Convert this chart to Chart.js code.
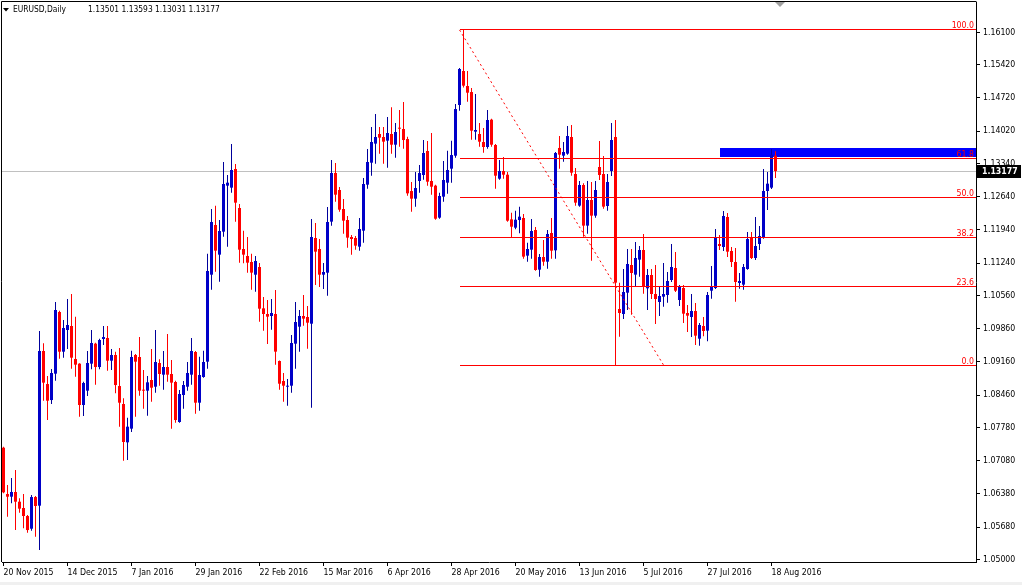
<!DOCTYPE html>
<html>
<head>
<meta charset="utf-8">
<title>EURUSD Daily</title>
<script src="https://cdn.jsdelivr.net/npm/chart.js@4.4.0/dist/chart.umd.min.js"></script>
<style>
  html, body { margin: 0; padding: 0; background: #fff; }
  canvas { display: block; }
</style>
</head>
<body>
<canvas id="priceChart" width="1022" height="585"></canvas>
<script>
// Daily candles, bar 0 = 20 Nov 2015
const opens = [
  1.07351,1.06375,1.06319,1.06418,1.06214,1.06081,1.05912,1.05645,1.06312,1.06130,
  1.09388,1.08692,1.08355,1.08910,1.10209,1.09373,1.09830,1.09914,1.09219,1.09121,
  1.08250,1.08552,1.09121,1.09542,1.09050,1.09640,1.09661,1.09184,1.09303,1.08650,
  1.08271,1.07464,1.07752,1.09303,1.09261,1.08573,1.08552,1.08777,1.08636,1.09135,
  1.08889,1.09051,1.08903,1.08735,1.07892,1.08461,1.08636,1.08889,1.09367,1.08299,
  1.08840,1.09163,1.10995,1.12042,1.11417,1.11901,1.12870,1.12828,1.13221,1.12400,
  1.11536,1.11389,1.11262,1.10995,1.11157,1.10286,1.10167,1.10125,1.10167,1.09177,
  1.08756,1.08636,1.08657,1.09542,1.09900,1.10125,1.10104,1.09963,1.11768,1.11536,
  1.10995,1.11037,1.12112,1.13137,1.12779,1.12378,1.12147,1.11789,1.11768,1.11585,
  1.11922,1.12891,1.13354,1.13755,1.13958,1.13895,1.13818,1.13958,1.13733,1.14091,
  1.14063,1.13852,1.12757,1.12596,1.12968,1.13094,1.13600,1.12968,1.12870,1.12196,
  1.12638,1.12933,1.13228,1.13501,1.14569,1.15285,1.14969,1.14842,1.14007,1.13958,
  1.13789,1.13684,1.14260,1.13726,1.13017,1.13178,1.13101,1.12160,1.11985,1.12146,
  1.12189,1.11396,1.11522,1.11936,1.11101,1.11368,1.11269,1.11873,1.11508,1.13664,
  1.13502,1.13544,1.13895,1.13116,1.12449,1.12884,1.12028,1.12568,1.12238,1.13263,
  1.13116,1.12442,1.13179,1.13895,1.10272,1.10167,1.10616,1.11199,1.10996,1.11312,
  1.11515,1.10708,1.10988,1.10588,1.10420,1.10532,1.10567,1.10883,1.11136,1.10462,
  1.10715,1.10188,1.10104,1.10230,1.09647,1.09914,1.09816,1.10658,1.10715,1.11641,
  1.11578,1.12210,1.11494,1.11262,1.10820,1.10785,1.11115,1.11775,1.11347,1.11641,
  1.11789,1.12758,1.12828,1.13501
];
const highs = [
  1.07372,1.06565,1.06713,1.06881,1.06284,1.06375,1.05933,1.06354,1.06333,1.09809,
  1.09549,1.08861,1.09008,1.10420,1.10237,1.10040,1.10483,1.10588,1.10111,1.09130,
  1.08742,1.09388,1.09830,1.09563,1.09647,1.09914,1.09914,1.09430,1.09373,1.09451,
  1.08391,1.07983,1.09395,1.09324,1.09683,1.08988,1.08861,1.09430,1.09830,1.09212,
  1.09388,1.09746,1.09198,1.08763,1.08566,1.08756,1.09156,1.09662,1.09388,1.09268,
  1.09395,1.11438,1.12379,1.12449,1.12147,1.13369,1.13095,1.13748,1.13326,1.12484,
  1.11922,1.11789,1.11438,1.11389,1.11241,1.10525,1.10462,1.10483,1.10672,1.09190,
  1.08924,1.08798,1.09725,1.10420,1.10251,1.10567,1.10335,1.12168,1.12084,1.11747,
  1.11241,1.12421,1.13411,1.13347,1.12842,1.12589,1.12231,1.11831,1.11810,1.12189,
  1.13031,1.13642,1.14106,1.14379,1.14106,1.14106,1.14316,1.14519,1.14190,1.14463,
  1.14632,1.13902,1.12947,1.13157,1.13305,1.13831,1.13810,1.13979,1.12891,1.12722,
  1.13389,1.13607,1.13817,1.14590,1.15348,1.16148,1.15285,1.14927,1.14800,1.14190,
  1.14084,1.14463,1.14281,1.13747,1.13410,1.13473,1.13157,1.12301,1.12343,1.12427,
  1.12273,1.11670,1.12168,1.12000,1.11431,1.11726,1.11936,1.12189,1.13579,1.13916,
  1.13790,1.14127,1.14148,1.13242,1.12969,1.12920,1.12969,1.12947,1.12969,1.13811,
  1.13495,1.13116,1.14190,1.14253,1.10827,1.11115,1.11536,1.11536,1.11684,1.11599,
  1.11852,1.11115,1.11115,1.11199,1.10736,1.11241,1.11052,1.11641,1.11473,1.10778,
  1.10778,1.10357,1.10588,1.10399,1.09977,1.10104,1.10630,1.11178,1.11957,1.11831,
  1.12337,1.12294,1.11578,1.11557,1.11031,1.11220,1.11894,1.11894,1.12210,1.12021,
  1.13221,1.13158,1.13635,1.13593
];
const lows = [
  1.06390,1.05898,1.06179,1.05617,1.05982,1.05652,1.05561,1.05603,1.05477,1.05196,
  1.08341,1.07934,1.08271,1.08763,1.09226,1.09247,1.09430,1.09015,1.08847,1.08004,
  1.08018,1.08440,1.09001,1.08678,1.09001,1.09514,1.08973,1.08987,1.08496,1.07794,
  1.07078,1.07092,1.07682,1.08005,1.08447,1.08173,1.08026,1.08321,1.08510,1.08658,
  1.08573,1.08742,1.07752,1.07878,1.07878,1.08173,1.08552,1.08679,1.08068,1.08131,
  1.08826,1.09016,1.10680,1.11059,1.10848,1.11796,1.11585,1.12723,1.12112,1.11248,
  1.11234,1.11038,1.10680,1.10637,1.10006,1.09816,1.09535,1.09837,1.09100,1.08573,
  1.08320,1.08236,1.08510,1.09015,1.09374,1.09921,1.09437,1.08194,1.10778,1.10736,
  1.10693,1.10553,1.12027,1.12533,1.12322,1.11859,1.11564,1.11417,1.11522,1.11501,
  1.11669,1.12807,1.13081,1.13333,1.13544,1.13333,1.13249,1.13544,1.13459,1.13691,
  1.13649,1.12659,1.12322,1.12427,1.12722,1.12996,1.12870,1.12680,1.12153,1.12174,
  1.12533,1.12701,1.12933,1.13459,1.14449,1.14940,1.14639,1.13838,1.13838,1.13691,
  1.13565,1.13649,1.13691,1.12806,1.12996,1.13017,1.12111,1.11788,1.11950,1.11866,
  1.11333,1.11269,1.11333,1.11080,1.10953,1.11185,1.11122,1.11333,1.11333,1.13228,
  1.13376,1.13523,1.13081,1.12449,1.12428,1.11796,1.11859,1.11290,1.12196,1.12990,
  1.12386,1.12344,1.13074,1.09070,1.09690,1.10062,1.10251,1.10153,1.10743,1.10953,
  1.10595,1.10251,1.10483,1.09956,1.10125,1.10321,1.10406,1.10841,1.10630,1.10335,
  1.09977,1.09788,1.09683,1.09514,1.09500,1.09697,1.09591,1.10490,1.10694,1.11515,
  1.11494,1.11368,1.11157,1.10427,1.10701,1.10680,1.11101,1.11326,1.11304,1.11515,
  1.11754,1.12358,1.12800,1.13031
];
const closes = [
  1.06411,1.06319,1.06418,1.06214,1.06067,1.05912,1.05617,1.06312,1.06123,1.09388,
  1.08721,1.08341,1.08924,1.10251,1.09373,1.09872,1.09935,1.09247,1.09100,1.08250,
  1.08714,1.09135,1.09556,1.09050,1.09619,1.09682,1.09184,1.09303,1.08671,1.08299,
  1.07471,1.07794,1.09261,1.09163,1.08552,1.08552,1.08728,1.08615,1.09156,1.08903,
  1.09051,1.08889,1.08721,1.07934,1.08482,1.08672,1.08924,1.09388,1.08299,1.08882,
  1.09156,1.11073,1.12105,1.11501,1.11915,1.12905,1.12933,1.13200,1.12512,1.11522,
  1.11417,1.11248,1.11038,1.11283,1.10279,1.10167,1.10111,1.10188,1.09374,1.08699,
  1.08657,1.08657,1.09556,1.09998,1.10125,1.10069,1.09984,1.11789,1.11480,1.10995,
  1.11052,1.12105,1.13137,1.12680,1.12364,1.12133,1.11775,1.11747,1.11606,1.11957,
  1.12905,1.13368,1.13790,1.13895,1.13881,1.13797,1.13979,1.13733,1.14000,1.14070,
  1.13831,1.12708,1.12596,1.12820,1.13136,1.13558,1.12954,1.12848,1.12174,1.12652,
  1.12989,1.13200,1.13515,1.14484,1.15327,1.14976,1.14828,1.14028,1.14042,1.13796,
  1.13684,1.14253,1.13733,1.13080,1.13178,1.13101,1.12132,1.12006,1.12153,1.12217,
  1.11375,1.11536,1.11915,1.11094,1.11368,1.11269,1.11852,1.11501,1.13558,1.13523,
  1.13579,1.13916,1.13144,1.12512,1.12884,1.12028,1.12568,1.12238,1.12779,1.13095,
  1.12428,1.12947,1.13832,1.10827,1.10188,1.10631,1.11220,1.11031,1.11347,1.11515,
  1.10743,1.10988,1.10588,1.10483,1.10546,1.10588,1.10862,1.11157,1.10658,1.10736,
  1.10174,1.10132,1.10230,1.09711,1.09935,1.09809,1.10567,1.10736,1.11768,1.11599,
  1.12231,1.11480,1.11262,1.10841,1.10862,1.11157,1.11747,1.11347,1.11599,1.11810,
  1.12758,1.12912,1.13523,1.13177
];

// time axis labels (every 16 bars)
const tickBars = [0, 16, 32, 48, 64, 80, 96, 112, 128, 144, 160, 176, 192];
const tickLabels = ['20 Nov 2015', '14 Dec 2015', '7 Jan 2016', '29 Jan 2016', '22 Feb 2016',
  '15 Mar 2016', '6 Apr 2016', '28 Apr 2016', '20 May 2016', '13 Jun 2016', '5 Jul 2016',
  '27 Jul 2016', '18 Aug 2016'];
// price axis labels
const priceTicks = [1.16100, 1.15420, 1.14720, 1.14020, 1.13340, 1.12640, 1.11940, 1.11240,
  1.10560, 1.09860, 1.09160, 1.08460, 1.07780, 1.07080, 1.06380, 1.05680, 1.05000];

const bidPrice = 1.13177;
// fibonacci retracement, drawn from the May high to the June low
const fibHigh = 1.1615;
const fibLow = 1.0908;
const fibLevels = [100, 61.8, 50, 38.2, 23.6, 0];
const fibStartBar = 114;
// resistance zone
const zoneTop = 1.1366;
const zoneBottom = 1.1347;
const zoneStartBar = 179;
// dotted trend line
const trendBars = [114, 165.1];
const trendPrices = [1.1615, 1.0908];

const BULL = '#0000C8';
const BULL_WICK = '#00009B';
const BEAR = '#FF0000';
const FONT = "'DejaVu Sans Condensed', 'Liberation Sans', sans-serif";

document.addEventListener('DOMContentLoaded', function() {
  Chart.defaults.font.family = FONT;
  Chart.defaults.font.size = 8.7;
  Chart.defaults.color = '#000';

  const bull = opens.map((o, i) => closes[i] >= o);
  const wickData = opens.map((o, i) => ({ x: i, y: [lows[i], highs[i]] }));
  const bodyData = opens.map((o, i) => ({ x: i, y: [o, closes[i]] }));
  const trendData = trendBars.map((b, i) => ({ x: b, y: trendPrices[i] }));

  const mt4Overlay = {
    id: 'mt4Overlay',
    beforeDraw(chart) {
      const ctx = chart.ctx;
      ctx.save();
      ctx.fillStyle = '#fff';
      ctx.fillRect(0, 0, chart.width, chart.height);
      ctx.restore();
    },
    beforeDatasetsDraw(chart) {
      const { ctx, chartArea: a, scales: { x, y } } = chart;
      ctx.save();
      // zone rectangle (background object)
      const zx = Math.round(x.getPixelForValue(zoneStartBar));
      const zt = Math.round(y.getPixelForValue(zoneTop));
      const zb = Math.round(y.getPixelForValue(zoneBottom));
      ctx.fillStyle = '#0000FF';
      ctx.fillRect(zx, zt, a.right - zx, zb - zt);
      // bid line
      const by = Math.floor(y.getPixelForValue(bidPrice)) + 0.5;
      ctx.strokeStyle = '#C0C0C0';
      ctx.lineWidth = 1;
      ctx.beginPath();
      ctx.moveTo(a.left, by);
      ctx.lineTo(a.right, by);
      ctx.stroke();
      ctx.restore();
    },
    afterDatasetsDraw(chart) {
      const { ctx, chartArea: a, scales: { x, y } } = chart;
      ctx.save();
      const fx = Math.round(x.getPixelForValue(fibStartBar));
      ctx.strokeStyle = '#FF0000';
      ctx.fillStyle = '#FF0000';
      ctx.lineWidth = 1;
      ctx.font = '8.7px ' + FONT;
      ctx.textAlign = 'right';
      ctx.textBaseline = 'bottom';
      fibLevels.forEach(lv => {
        const price = fibLow + (fibHigh - fibLow) * lv / 100;
        const ly = Math.floor(y.getPixelForValue(price)) + 0.5;
        ctx.beginPath();
        ctx.moveTo(fx, ly);
        ctx.lineTo(a.right, ly);
        ctx.stroke();
        ctx.fillText(lv.toFixed(1), a.right - 2, ly + 0.5);
      });
      ctx.restore();
    },
    afterDraw(chart) {
      const { ctx, chartArea: a, scales: { y } } = chart;
      ctx.save();
      // frame
      ctx.strokeStyle = '#000';
      ctx.lineWidth = 1;
      ctx.beginPath();
      ctx.moveTo(1.5, a.bottom);
      ctx.lineTo(1.5, 1.5);
      ctx.lineTo(a.right + 0.5, 1.5);
      ctx.stroke();
      // current price label
      const by = Math.floor(y.getPixelForValue(bidPrice)) + 0.5;
      ctx.fillStyle = '#000';
      ctx.fillRect(a.right + 1, by - 6.5, 44, 13);
      ctx.fillStyle = '#fff';
      ctx.font = 'bold 8.7px ' + FONT;
      ctx.textBaseline = 'middle';
      ctx.textAlign = 'left';
      ctx.fillText(bidPrice.toFixed(5), a.right + 6, by + 0.5);
      // header
      const last = opens.length - 1;
      ctx.fillStyle = '#000';
      ctx.beginPath();
      ctx.moveTo(3, 8);
      ctx.lineTo(9, 8);
      ctx.lineTo(6, 11.5);
      ctx.closePath();
      ctx.fill();
      ctx.font = '8.4px ' + FONT;
      ctx.fillText('EURUSD,Daily', 13, 10);
      ctx.fillText([opens[last], highs[last], lows[last], closes[last]].map(v => v.toFixed(5)).join(' '), 88, 10);
      // chart shift marker
      ctx.fillStyle = '#A0A0A0';
      ctx.beginPath();
      ctx.moveTo(775, 2);
      ctx.lineTo(785, 2);
      ctx.lineTo(780, 7);
      ctx.closePath();
      ctx.fill();
      // window bottom strip
      ctx.fillStyle = '#F0F0F0';
      ctx.fillRect(0, 582, chart.width, 3);
      ctx.restore();
    }
  };

  const ctx = document.getElementById('priceChart').getContext('2d');
  const priceChart = new Chart(ctx, {
    type: 'bar',
    data: {
      datasets: [
        {
          type: 'line',
          data: trendData,
          borderColor: '#FF0000',
          borderWidth: 1,
          borderDash: [2, 3],
          pointRadius: 0,
          fill: false,
          order: 0
        },
        {
          data: wickData,
          backgroundColor: bull.map(b => b ? BULL_WICK : BEAR),
          barThickness: 1,
          grouped: false,
          inflateAmount: 0,
          borderWidth: 0,
          order: 2
        },
        {
          data: bodyData,
          backgroundColor: bull.map(b => b ? BULL : BEAR),
          barThickness: 3,
          minBarLength: 1,
          grouped: false,
          inflateAmount: 0,
          borderWidth: 0,
          order: 1
        }
      ]
    },
    options: {
      responsive: false,
      animation: false,
      devicePixelRatio: 1,
      layout: { autoPadding: false, padding: { left: 2, top: 2, right: 0, bottom: 0 } },
      plugins: {
        legend: { display: false },
        tooltip: { enabled: false }
      },
      scales: {
        x: {
          type: 'linear',
          min: -0.375,
          max: 243.125,
          bounds: 'data',
          offset: false,
          grid: { display: true, drawOnChartArea: false, drawTicks: true, tickLength: 4, color: '#000', offset: false },
          border: { display: true, color: '#000' },
          ticks: {
            autoSkip: false,
            maxRotation: 0,
            align: 'start',
            padding: 2,
            callback: v => {
              const k = tickBars.indexOf(v);
              return k >= 0 ? tickLabels[k] : '';
            }
          },
          afterBuildTicks: s => { s.ticks = tickBars.map(v => ({ value: v })); },
          afterFit: s => { s.height = 23; s.paddingLeft = 0; s.paddingRight = 0; }
        },
        y: {
          type: 'linear',
          position: 'right',
          min: 1.049438,
          max: 1.167382,
          bounds: 'data',
          grid: { display: true, drawOnChartArea: false, drawTicks: true, tickLength: 4, color: '#000' },
          border: { display: true, color: '#000' },
          ticks: {
            autoSkip: false,
            padding: 3,
            callback: v => v.toFixed(5)
          },
          afterBuildTicks: s => { s.ticks = priceTicks.map(v => ({ value: v })); },
          afterFit: s => { s.width = 46; s.paddingTop = 0; s.paddingBottom = 0; }
        }
      }
    },
    plugins: [mt4Overlay]
  });
});
</script>
</body>
</html>
